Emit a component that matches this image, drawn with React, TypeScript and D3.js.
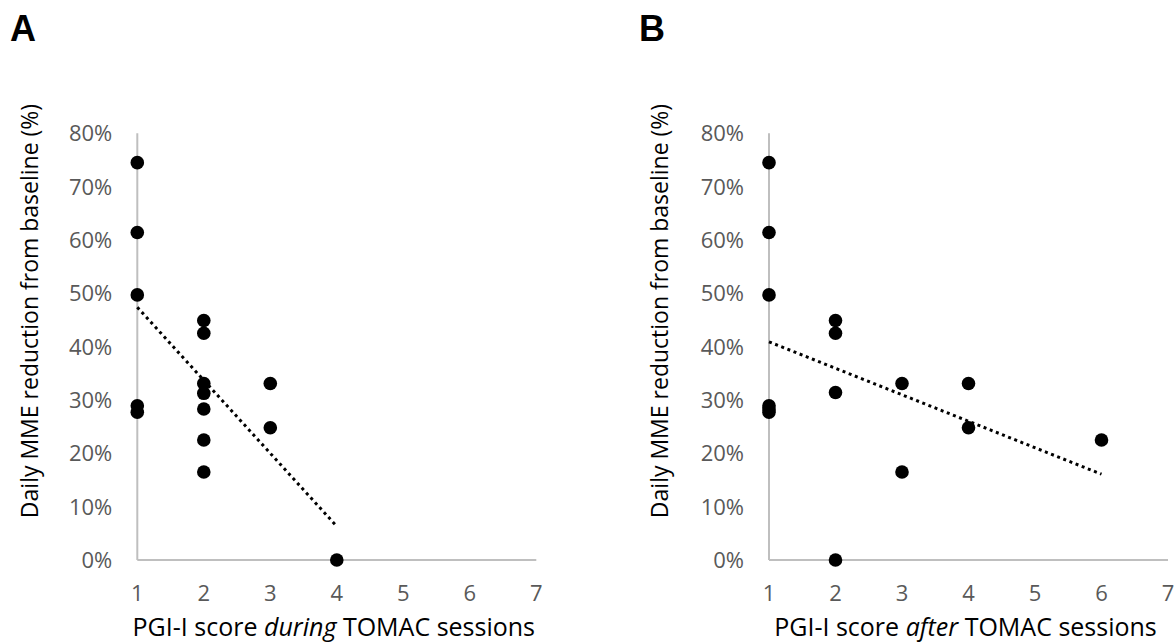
import React from "react";
import * as d3 from "d3";

// PGI-I scores and daily MME reduction (fraction)
const xTicks = [1, 2, 3, 4, 5, 6, 7];
const yTicks = [0, 0.1, 0.2, 0.3, 0.4, 0.5, 0.6, 0.7, 0.8];

const duringScore = [1, 1, 1, 1, 1, 2, 2, 2, 2, 2, 2, 2, 3, 3, 4];
const duringReduction = [
  0.745, 0.614, 0.497, 0.289, 0.277, 0.449, 0.425, 0.331, 0.3125, 0.283, 0.225,
  0.165, 0.331, 0.248, 0,
];

const afterScore = [1, 1, 1, 1, 1, 1, 2, 2, 2, 2, 3, 3, 4, 4, 6];
const afterReduction = [
  0.745, 0.614, 0.497, 0.289, 0.283, 0.277, 0.449, 0.425, 0.314, 0, 0.331,
  0.165, 0.331, 0.248, 0.225,
];

const W = 1174;
const H = 643;
const top = 133.3;
const bottom = 560;
const axisColor = "#bfbfbf";
const labelColor = "#595959";
const font = "'Open Sans', sans-serif";

// least squares fit, like Excel's linear trendline
const fit = (xs, ys) => {
  const mx = d3.mean(xs);
  const my = d3.mean(ys);
  const sxy = d3.sum(xs, (x, i) => (x - mx) * (ys[i] - my));
  const sxx = d3.sum(xs, (x) => (x - mx) * (x - mx));
  const slope = sxy / sxx;
  return { slope, intercept: my - slope * mx };
};

const Panel = ({ letter, letterX, left, right, titleX, word, scores, values }) => {
  const x = d3.scaleLinear().domain([1, 7]).range([left, right]);
  const y = d3.scaleLinear().domain([0, 0.8]).range([bottom, top]);

  const { slope, intercept } = fit(scores, values);
  const ext = d3.extent(scores);
  const trend = d3
    .line()
    .x((d) => x(d))
    .y((d) => y(intercept + slope * d))(ext);

  return (
    <g>
      <text
        x={letterX}
        y={41}
        fontFamily="'Liberation Sans', Arial, sans-serif"
        fontWeight="bold"
        fontSize={36}
        fill="#000"
      >
        {letter}
      </text>

      <line x1={left} x2={left} y1={y(0.8)} y2={y(0)} stroke={axisColor} strokeWidth={2} />
      <line x1={left} x2={right} y1={y(0)} y2={y(0)} stroke={axisColor} strokeWidth={2} />

      {yTicks.map((t) => (
        <text
          key={t}
          x={left - 25}
          y={y(t)}
          dy="0.36em"
          textAnchor="end"
          fontFamily={font}
          fontSize={22}
          fill={labelColor}
        >
          {d3.format(".0%")(t)}
        </text>
      ))}

      {xTicks.map((t) => (
        <text
          key={t}
          x={x(t)}
          y={601}
          textAnchor="middle"
          fontFamily={font}
          fontSize={22}
          fill={labelColor}
        >
          {t}
        </text>
      ))}

      <text
        transform={`translate(${titleX}, 311) rotate(-90)`}
        dy="0.35em"
        textAnchor="middle"
        fontFamily={font}
        fontSize={23}
        fill="#000"
      >
        Daily MME reduction from baseline (%)
      </text>

      <text
        x={(left + right) / 2 - 3}
        y={636}
        textAnchor="middle"
        fontFamily={font}
        fontSize={25}
        fill="#000"
      >
        PGI-I score <tspan fontStyle="italic">{word}</tspan> TOMAC sessions
      </text>

      <path
        d={trend}
        fill="none"
        stroke="#000"
        strokeWidth={3}
        strokeDasharray="3 3.6"
      />

      {scores.map((s, i) => (
        <circle key={i} cx={x(s)} cy={y(values[i])} r={6.8} fill="#000" />
      ))}
    </g>
  );
};

export default function App() {
  return (
    <svg
      width={W}
      height={H}
      style={{ position: "absolute", left: 0, top: 0, background: "#fff" }}
    >
      <rect width={W} height={H} fill="#fff" />
      <Panel
        letter="A"
        letterX={10}
        left={137.3}
        right={536.3}
        titleX={30}
        word="during"
        scores={duringScore}
        values={duringReduction}
      />
      <Panel
        letter="B"
        letterX={639}
        left={769}
        right={1168}
        titleX={660}
        word="after"
        scores={afterScore}
        values={afterReduction}
      />
    </svg>
  );
}
